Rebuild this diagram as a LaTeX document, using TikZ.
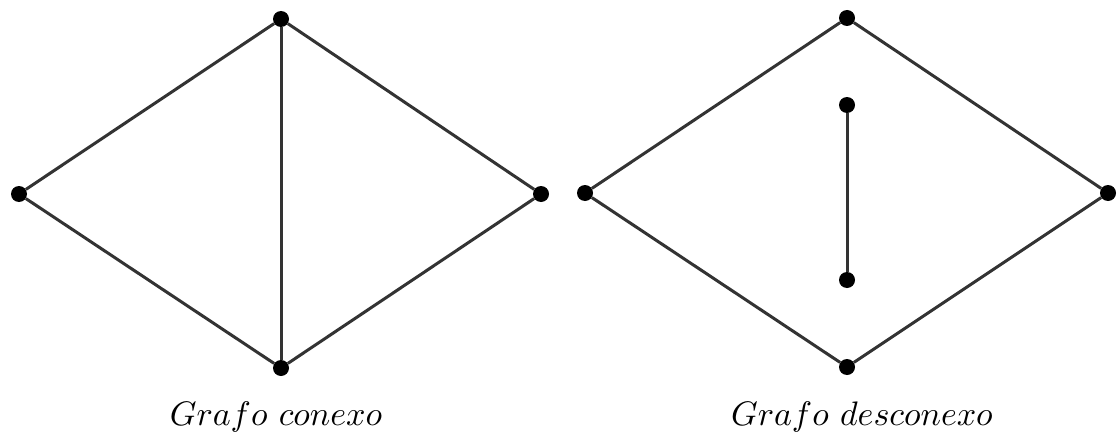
\documentclass[tikz,border=0pt]{standalone}
\begin{document}
\begin{tikzpicture}[x=1pt,y=-1pt,
  vtx/.style={circle,fill=black,inner sep=0pt,minimum size=16pt},
  edge/.style={line width=3pt,black!80},
  captext/.style={scale=3.4,inner sep=0pt}]
\useasboundingbox (0,0) rectangle (1119,436);
% left graph
\node[vtx] (lt) at (281,19) {};
\node[vtx] (ll) at (19,194) {};
\node[vtx] (lr) at (541,194) {};
\node[vtx] (lb) at (281,368) {};
\draw[edge] (lt) -- (ll);
\draw[edge] (ll) -- (lb);
\draw[edge] (lb) -- (lr);
\draw[edge] (lr) -- (lt);
\draw[edge] (lt) -- (lb);
% right graph
\node[vtx] (rt) at (847,18) {};
\node[vtx] (rl) at (585,193) {};
\node[vtx] (rr) at (1108,193) {};
\node[vtx] (rb) at (847,367) {};
\node[vtx] (ru) at (847,105) {};
\node[vtx] (rd) at (847,280) {};
\draw[edge] (rt) -- (rl);
\draw[edge] (rl) -- (rb);
\draw[edge] (rb) -- (rr);
\draw[edge] (rr) -- (rt);
\draw[edge] (ru) -- (rd);
% captions
\node[captext] (c1) at (276,417) {$Grafo\ conexo$};
\node[captext] (c2) at (862,417) {$Grafo\ desconexo$};
\end{tikzpicture}
\end{document}
